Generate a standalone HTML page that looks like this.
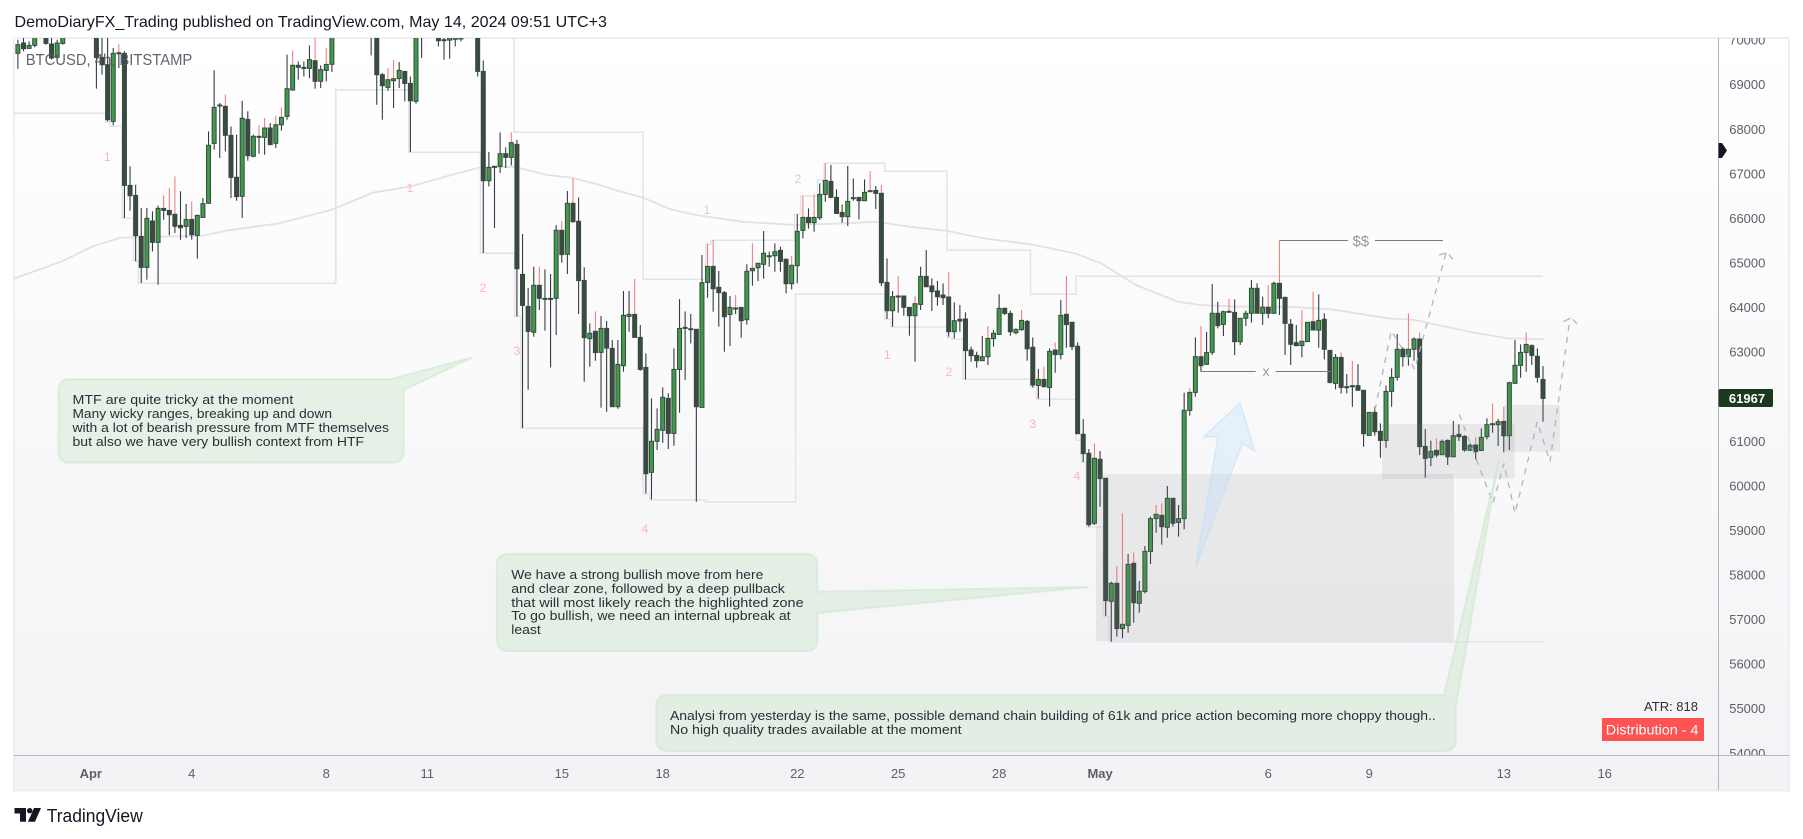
<!DOCTYPE html>
<html lang="en">
<head>
<meta charset="utf-8">
<title>BTCUSD 4h chart</title>
<style>
html,body{margin:0;padding:0;background:#fff;width:1803px;height:839px;overflow:hidden}
svg{display:block;font-family:"Liberation Sans",sans-serif}
</style>
</head>
<body>
<svg id="chart" xmlns="http://www.w3.org/2000/svg" width="1803" height="839" viewBox="0 0 1803 839">
  <defs>
    <linearGradient id="panelGrad" x1="0" y1="0" x2="0" y2="1">
      <stop offset="0" stop-color="#ffffff"/>
      <stop offset="1" stop-color="#f3f3f5"/>
    </linearGradient>
    <clipPath id="plotClip"><rect x="14" y="38" width="1704.5" height="717"/></clipPath>
    <clipPath id="priceClip"><rect x="1719" y="38" width="70" height="717"/></clipPath>
  </defs>
  <text x="14.5" y="27" font-size="16" fill="#131722" textLength="592.4" lengthAdjust="spacingAndGlyphs">DemoDiaryFX_Trading published on TradingView.com, May 14, 2024 09:51 UTC+3</text>
  <rect x="14" y="38" width="1775" height="752.5" fill="url(#panelGrad)" stroke="#eeeff4" stroke-width="2"/>
  <g id="plotUnder" clip-path="url(#plotClip)"></g>
  <g clip-path="url(#plotClip)">
    <rect x="1096" y="474" width="357.8" height="167" fill="#787b86" fill-opacity="0.12"/>
    <rect x="1382" y="424" width="132.7" height="54.7" fill="#787b86" fill-opacity="0.12"/>
    <rect x="1504" y="405" width="56" height="46.7" fill="#787b86" fill-opacity="0.12"/>
    <polygon points="1240,402.7 1254.7,451 1242.3,443.3 1195.7,566.7 1218,436.7 1204,436.7" fill="#bbdefb" fill-opacity="0.32" stroke="#bbdefb" stroke-opacity="0.55" stroke-width="1.5"/>
    <path d="M1375,410 L1391.3,330.7 L1414.7,369.3 L1446,253" fill="none" stroke="#b2b5be" stroke-width="1.3" stroke-dasharray="6 6"/>
    <path d="M1439,255 L1446,253 M1449,254.5 L1452.7,259.3" fill="none" stroke="#b2b5be" stroke-width="1.3"/>
    <path d="M1459.3,414.3 L1493,503.3 L1504,463.3 L1515,513.3 L1537.3,421.7 L1550,461.7 L1570,318.3" fill="none" stroke="#b2b5be" stroke-width="1.3" stroke-dasharray="6 6"/>
    <path d="M1563.5,321.7 L1570,318.3 M1573,319.5 L1577,324" fill="none" stroke="#b2b5be" stroke-width="1.3"/>
    <path d="M1279.6,240.5 H1348 M1375,240.5 H1443" fill="none" stroke="#787b86" stroke-width="1"/>
    <text x="1360.8" y="246" text-anchor="middle" font-size="15" fill="#9598a1">$$</text>
    <path d="M1200.7,371.5 H1255.7 M1275.7,371.5 H1330.7" fill="none" stroke="#787b86" stroke-width="1"/>
    <text x="1266" y="376" text-anchor="middle" font-size="14" fill="#9598a1">x</text>
    <g font-size="12" text-anchor="middle" fill="#ffb3b3">
      <text x="107.3" y="161">1</text>
      <text x="410" y="192">1</text>
      <text x="483" y="292">2</text>
      <text x="517" y="355">3</text>
      <text x="645" y="533">4</text>
      <text x="707" y="214" fill="#b5dfb7">1</text>
      <text x="798" y="183" fill="#b5dfb7">2</text>
      <text x="887.3" y="359">1</text>
      <text x="949" y="376">2</text>
      <text x="1032.8" y="428">3</text>
      <text x="1077" y="480">4</text>
    </g>
    <text x="25.7" y="65" font-size="16" fill="#50535e" fill-opacity="0.9" textLength="166.6" lengthAdjust="spacingAndGlyphs">BTCUSD, 4h, BITSTAMP</text>
  </g>
  <g>
    <path d="M68.5,379.3 H390 L472.6,357.3 L403.7,390 V452.7 a10,10 0 0 1 -10,10 H68.5 a10,10 0 0 1 -10,-10 V389.3 a10,10 0 0 1 10,-10 Z" fill="#c8e6c9" fill-opacity="0.4" stroke="#c8e6c9" stroke-opacity="0.5" stroke-width="2"/>
    <g font-size="13" fill="#2a2e39">
      <text x="72.5" y="404" textLength="220.8" lengthAdjust="spacingAndGlyphs">MTF are quite tricky at the moment</text>
      <text x="72.5" y="418" textLength="259.5" lengthAdjust="spacingAndGlyphs">Many wicky ranges, breaking up and down</text>
      <text x="72.5" y="432" textLength="316.5" lengthAdjust="spacingAndGlyphs">with a lot of bearish pressure from MTF themselves</text>
      <text x="72.5" y="446" textLength="291.6" lengthAdjust="spacingAndGlyphs">but also we have very bullish context from HTF</text>
    </g>
  </g>
  <g>
    <path d="M506.8,554 H807.4 a10,10 0 0 1 10,10 V591.7 L1089,587 L817.4,613 V641 a10,10 0 0 1 -10,10 H506.8 a10,10 0 0 1 -10,-10 V564 a10,10 0 0 1 10,-10 Z" fill="#c8e6c9" fill-opacity="0.4" stroke="#c8e6c9" stroke-opacity="0.5" stroke-width="2"/>
    <g font-size="13" fill="#2a2e39">
      <text x="511.3" y="579" textLength="252" lengthAdjust="spacingAndGlyphs">We have a strong bullish move from here</text>
      <text x="511.3" y="593" textLength="273.5" lengthAdjust="spacingAndGlyphs">and clear zone, followed by a deep pullback</text>
      <text x="511.3" y="607" textLength="292.3" lengthAdjust="spacingAndGlyphs">that will most likely reach the highlighted zone</text>
      <text x="511.3" y="620" textLength="279.3" lengthAdjust="spacingAndGlyphs">To go bullish, we need an internal upbreak at</text>
      <text x="511.3" y="634" textLength="29.5" lengthAdjust="spacingAndGlyphs">least</text>
    </g>
  </g>
  <g>
    <path d="M666.3,695 H1444.2 L1498.8,460 L1455.8,706.7 V741 a10,10 0 0 1 -10,10 H666.3 a10,10 0 0 1 -10,-10 V705 a10,10 0 0 1 10,-10 Z" fill="#c8e6c9" fill-opacity="0.4" stroke="#c8e6c9" stroke-opacity="0.5" stroke-width="2"/>
    <g font-size="13" fill="#2a2e39">
      <text x="670" y="720" textLength="765.8" lengthAdjust="spacingAndGlyphs">Analysi from yesterday is the same, possible demand chain building of 61k and price action becoming more choppy though..</text>
      <text x="670" y="734" textLength="291.6" lengthAdjust="spacingAndGlyphs">No high quality trades available at the moment</text>
    </g>
  </g>
  <text x="1698" y="711" text-anchor="end" font-size="13" fill="#2a2e39">ATR: 818</text>
  <rect x="1602" y="718" width="102" height="23" fill="#ff5252"/>
  <text x="1605.8" y="734.5" font-size="14" fill="#ffffff" textLength="92.7" lengthAdjust="spacingAndGlyphs">Distribution - 4</text>
  <line x1="1718.5" y1="38" x2="1718.5" y2="790" stroke="#b2b5be" stroke-width="1"/>
  <line x1="14" y1="755.5" x2="1789" y2="755.5" stroke="#b2b5be" stroke-width="1"/>
  <g id="priceAxis" clip-path="url(#priceClip)"></g>
  <g id="timeAxis"></g>
  <polygon points="1718.5,143 1722,143 1727,150.5 1722,158 1718.5,158" fill="#131722"/>
  <rect x="1718.5" y="389" width="54.5" height="18" rx="1.5" fill="#1b3a1f"/>
  <text x="1747" y="403" text-anchor="middle" font-size="13" font-weight="bold" fill="#ffffff">61967</text>
  <g>
    <path d="M14.5,808 H26 V821.7 H20 V813.5 H14.5 Z" fill="#131722"/>
    <circle cx="29.7" cy="810.7" r="2.7" fill="#131722"/>
    <polygon points="34,808 41,808 35,821.7 28,821.7" fill="#131722"/>
    <text x="46.7" y="822" font-size="18" fill="#131722" textLength="96" lengthAdjust="spacingAndGlyphs">TradingView</text>
  </g>
</svg>
<script>
const opens = [69710,69942,69822,69889,70400,70091,69919,69620,69934,70130,
70600,70400,70800,70700,70353,69620,69456,68184,69725,69710,
66748,66524,65604,64908,65948,65469,66232,66187,66098,65851,
65828,65985,65626,66030,66344,67691,68551,68521,67870,66928,
66502,68229,67399,67848,67825,68035,67691,68109,68296,68887,
69441,69396,69373,69545,69082,69329,69463,70400,70250,70600,
70350,70900,70500,70700,70278,69231,68947,69097,69142,69306,
69037,68633,70500,70300,70400,70054,70017,70009,70024,70032,
70500,70150,70503,69306,66853,67167,67175,67459,67377,67668,
64751,64033,63450,64505,64213,64213,64213,65739,65200,66345,
65941,64617,63308,63473,63002,63540,63091,61782,62702,63809,
63854,63338,62665,60309,61005,61251,61969,61184,62620,63562,
63533,63518,61767,64572,64931,64460,64340,63854,63996,64011,
63734,64834,64901,64976,65170,65170,65290,65088,64542,64946,
65739,66030,65911,66023,66546,66838,66479,66142,66045,66472,
66479,66404,66629,66636,66569,64572,63936,64265,64265,64011,
63824,64078,64706,64490,64377,64288,64243,63465,63742,63749,
63054,62934,62814,62904,63308,63405,63988,63876,63442,63510,
63697,63114,62261,62395,62216,63054,62950,63855,63675,63137,
61162,60736,59165,60601,60175,57415,57819,56802,56877,58268,
57370,57632,58537,59270,59345,59075,59726,59188,59270,61701,
62104,62905,62733,63002,63877,63630,63922,63899,63241,63765,
63877,64438,63877,64012,63877,64550,64236,63630,63219,63152,
63241,63689,63502,63742,63046,62306,62889,62231,62253,62253,
62149,61139,61655,61229,61027,62126,62440,63069,62904,63069,
63300,60892,60645,60802,60705,61027,60660,61161,61116,60802,
60922,60802,61109,61401,61378,61453,61131,62306,62710,63001,
63151,62912,62395];
const highs = [70017,70054,69979,70204,70500,70204,70129,70017,70204,70600,
70700,70900,70900,70800,70428,70054,70054,69830,69919,69755,
67175,66763,66240,66240,66165,66292,66524,66689,66950,66614,
66330,66389,66090,66464,67960,69329,68596,68783,68072,67885,
68648,68409,67885,68094,68259,68147,68311,68498,69680,69777,
69530,69530,69889,70054,69441,69830,70278,70500,70600,70700,
70900,71000,71000,70800,70353,69269,69381,69568,69516,69306,
69194,70353,70600,70650,70500,70300,70150,70300,70300,70300,
70600,70600,70600,69553,67496,67175,67937,67601,67937,67773,
65656,64445,64924,64924,64864,64759,65858,65948,66621,66913,
66479,64909,63652,63921,63817,63705,63278,63278,64378,64378,
64647,63615,62979,61969,61745,62216,62082,63091,64198,63921,
63862,63518,65185,65432,65522,64826,64378,64265,64288,64011,
64976,65447,65000,65724,65260,65447,65372,65111,65163,66098,
66509,66232,66546,66793,67242,67205,66658,66322,67182,66905,
66479,66883,67070,66733,66756,65110,64377,64714,64265,64011,
64265,64923,65297,64662,64602,64549,64804,64123,64063,63899,
63128,63016,63368,63592,63502,64303,64011,63936,63540,63951,
63727,63338,62627,62680,63091,63219,64176,64715,63675,63226,
61506,60833,60960,60788,60175,57856,58208,59390,58477,58507,
57871,58657,59315,59577,59614,60003,59726,59577,62097,62202,
63338,63593,63458,64535,64139,63937,64199,64191,63765,63937,
64625,64550,64251,64513,64587,65522,64236,63750,63615,63952,
63675,64362,64303,63876,63046,62964,63001,62515,62807,62739,
62149,61655,61782,61408,62253,62642,63413,63113,63876,63338,
63450,61281,61019,61072,61049,61049,61461,61386,61146,60960,
61094,61296,61520,61857,61505,61782,62343,63278,63181,63450,
63181,63091,62695];
const lows = [69366,69755,69815,69845,70050,69904,69568,69590,69904,70100,
70300,70300,70400,70300,68917,69231,68184,68095,69381,66015,
66180,65043,64557,64632,65267,64520,65978,65626,65679,65529,
65567,65529,65103,66015,66337,67549,67362,67511,66464,66404,
66015,67302,67377,67459,67436,67661,67586,67975,68222,68872,
69119,69194,69157,68917,68932,69082,69291,70100,70150,70200,
70300,70400,70350,69665,68558,68222,68872,68483,68932,68633,
67496,68581,69605,70200,70080,69867,69568,69590,69867,69979,
70080,70080,69194,65230,66726,65791,67025,67137,67197,63809,
61304,62164,63353,63951,63488,62665,63390,65013,64759,65911,
63862,62343,62680,62815,61760,61670,61782,61738,62568,63465,
63338,62590,59838,59703,60810,60975,60833,60907,61648,62381,
63203,59651,61767,64228,63914,63577,63017,63144,63862,63331,
63622,64497,64602,64654,64924,64811,64811,64325,64415,64549,
65559,65776,65709,65970,66382,66457,66105,65911,65836,66404,
65985,66404,66606,66217,64490,63749,63577,63891,63824,63375,
62792,63951,64460,63929,64048,64063,63353,63315,63465,62395,
62792,62657,62814,62717,63128,63390,63839,63375,63405,63487,
62814,62216,61962,62216,61782,62546,62845,63107,63054,61177,
60541,59090,59128,59539,57086,56510,56622,56585,56712,56936,
57161,57595,58253,58956,58687,58844,59090,58866,59031,61581,
62007,62568,62718,62942,63540,63368,63899,62942,63166,63593,
63668,63877,63615,63765,63877,63840,62942,62718,63152,62890,
63241,63502,63106,62844,62306,62171,62081,62081,61782,62141,
60885,61139,61131,60638,60862,61782,62366,62680,62702,62814,
60698,60189,60451,60645,60698,60473,60645,61012,60773,60795,
60600,60787,61049,61199,60900,60758,60810,62291,62433,62567,
62717,62321,61446];
const closes = [69904,69815,69889,70129,70130,69934,69605,69942,70129,70500,
70400,70800,70500,70400,69620,69456,68222,69710,69710,66748,
66516,65619,64908,66008,65469,66232,66187,66090,65828,65798,
65985,65641,66075,66337,67646,68498,68536,67870,66928,66494,
68252,67414,67848,67825,68035,67661,68109,68274,68917,69441,
69396,69381,69568,69082,69343,69463,70204,70200,70500,70300,
70800,70500,70900,70300,69231,68984,69119,69142,69329,69037,
68648,70278,70350,70550,70150,69994,70009,70100,70150,70150,
70150,70500,69306,66853,67152,67175,67459,67377,67706,64879,
64056,63472,64505,64213,64206,64206,65739,65193,66345,65933,
64610,63331,63428,62994,63540,63099,61782,62732,63832,63854,
63338,62620,60279,61005,61274,61992,61184,62620,63540,63547,
63518,61782,64565,64931,64430,64340,63802,64011,63981,63712,
64819,64886,65000,65223,65148,65260,65043,64542,64954,65716,
66030,65911,66030,66546,66860,66479,66120,66045,66389,66449,
66404,66591,66606,66569,64564,63936,64250,64250,64011,63824,
64093,64706,64475,64362,64250,64228,63465,63712,63704,63039,
62927,62814,62904,63315,63428,63988,63876,63465,63517,63719,
63083,62268,62395,62231,63024,62950,63832,63623,63129,61177,
60728,59135,60624,60167,57430,57819,56802,56899,58245,57385,
57640,58537,59270,59367,59090,59726,59165,59270,61701,62104,
62905,62703,62995,63877,63600,63914,63899,63241,63765,63877,
64438,63877,64012,63877,64550,64214,63653,63182,63152,63249,
63675,63502,63719,63069,62328,62889,62216,62216,62238,62149,
61176,61655,61221,61027,62126,62440,63069,62904,63069,63300,
60885,60623,60780,60698,61004,60660,61131,61109,60810,60915,
60773,61094,61378,61386,61446,61131,62320,62710,63001,63181,
62934,62440,61969];
const redWickBars = [18,26,27,28,31,37,43,44,46,47,49,53,55,66,67,88,93,97,99,103,110,123,124,128,131,138,140,142,144,152,154,157,160,166,173,179,183,185,187,192,196,197,199,203,204,209,211,216,223,225,229,231,236,238,248,250,253,260,263,265,269];
const maBars = [-0.7,7.7,13.2,18.3,33,37.1,46.6,55.8,63.3,69.8,77.3,82.5,88.6,94.4,98.8,103.8,106.9,111.3,116.4,120.9,129.1,138.6,147.5,153,159.8,165.6,172.7,180.6,188.5,193.2,199.4,206.9,210.8,217.7,226.6,234.2,244.4,249.2,258.8,265.7,272.1];
const maValues = [64658,65035,65372,65574,65619,65731,65897,66195,66583,66718,66980,67153,67167,66980,66920,66756,66628,66480,66211,66083,65933,65859,65897,65933,65807,65731,65551,65426,65224,65000,64512,64138,64064,64026,64026,63967,63765,63727,63465,63317,63294];
const lowerStepEndBars = [15.66,16.4,18.6,20.6,21.5,56.7,69.7,82.5,88.6,89.7,111.5,112.7,122.7,138.7,154.6,155.7,165.7,166.6,168.6,180.6,181.7,188.7,189.7,190.5,193.6,194.6,272];
const lowerStepPrices = [68365,68163,68073,66009,65058,64551,68894,67490,65224,63810,61297,59823,59688,59643,64304,63743,63570,63330,63294,62397,62217,61948,61028,60534,59083,57070,56509];
const lowerStepStart = -0.7;
const upperStepEndBars = [88.5,111.5,122.7,123.6,138.5,139.6,142.6,143.8,154.6,165.7,180.6,188.7,272];
const upperStepPrices = [70500,67939,64640,65426,65515,66099,66509,66868,67243,67064,65291,64304,64708];
const upperStepStart = 88.5;
const priceTicks = [70000,69000,68000,67000,66000,65000,64000,63000,62000,61000,60000,59000,58000,57000,56000,55000,54000];
const timeTickBars = [13,31,55,73,97,115,139,157,175,193,223,241,265,283];
const timeTickLabels = ["Apr","4","8","11","15","18","22","25","28","May","6","9","13","16"];
const boldTimeLabels = ["Apr","May"];

const SVG_NS = "http://www.w3.org/2000/svg";
function rawX(i){ return 17.9 + 5.607 * i; }
function priceY(p){ return 85 + (69000 - p) * 0.04457; }
function svgEl(tag){ return document.createElementNS(SVG_NS, tag); }
function stepPath(start, ends, prices){
  let d = "M" + rawX(start).toFixed(1) + "," + priceY(prices[0]).toFixed(1);
  for (let i = 0; i < ends.length; i++){
    d += " H" + rawX(ends[i]).toFixed(1);
    if (i + 1 < ends.length) d += " V" + priceY(prices[i + 1]).toFixed(1);
  }
  return d;
}

const plot = document.getElementById("plotUnder");

const lowerStep = svgEl("path");


lowerStep.setAttribute("d", stepPath(lowerStepStart, lowerStepEndBars, lowerStepPrices));
lowerStep.setAttribute("fill", "none");
lowerStep.setAttribute("stroke", "#e3e3ea");
lowerStep.setAttribute("stroke-width", "1.5");
plot.appendChild(lowerStep);

const upperStep = svgEl("path");


upperStep.setAttribute("d", stepPath(upperStepStart, upperStepEndBars, upperStepPrices));
upperStep.setAttribute("fill", "none");
upperStep.setAttribute("stroke", "#e3e3ea");
upperStep.setAttribute("stroke-width", "1.5");
plot.appendChild(upperStep);

const maLine = svgEl("polyline");


maLine.setAttribute("points", maBars.map(function(b, i){ return rawX(b).toFixed(1) + "," + priceY(maValues[i]).toFixed(1); }).join(" "));
maLine.setAttribute("fill", "none");
maLine.setAttribute("stroke", "#e2e2e6");
maLine.setAttribute("stroke-width", "1.8");
maLine.setAttribute("stroke-linejoin", "round");
plot.appendChild(maLine);

const redSet = new Set(redWickBars);
for (let i = 0; i < opens.length; i++){
  const x = rawX(i);
  const top = Math.max(opens[i], closes[i]);
  const bottom = Math.min(opens[i], closes[i]);
  const yTop = priceY(top);
  const yBottom = Math.max(priceY(bottom), yTop + 1);
  const candle = svgEl("g");
  
  

  const upperWick = svgEl("line");
  
  
  upperWick.setAttribute("x1", x.toFixed(2));
  upperWick.setAttribute("x2", x.toFixed(2));
  upperWick.setAttribute("y1", priceY(highs[i]).toFixed(1));
  upperWick.setAttribute("y2", yTop.toFixed(1));
  upperWick.setAttribute("stroke", redSet.has(i) ? "#ef8080" : "#363a45");
  upperWick.setAttribute("stroke-width", "1.1");
  candle.appendChild(upperWick);

  const lowerWick = svgEl("line");
  
  
  lowerWick.setAttribute("x1", x.toFixed(2));
  lowerWick.setAttribute("x2", x.toFixed(2));
  lowerWick.setAttribute("y1", yBottom.toFixed(1));
  lowerWick.setAttribute("y2", priceY(lows[i]).toFixed(1));
  lowerWick.setAttribute("stroke", "#363a45");
  lowerWick.setAttribute("stroke-width", "1.1");
  candle.appendChild(lowerWick);

  const body = svgEl("rect");
  
  
  body.setAttribute("x", (x - 2).toFixed(2));
  body.setAttribute("y", yTop.toFixed(1));
  body.setAttribute("width", 4);
  body.setAttribute("height", (yBottom - yTop).toFixed(1));
  body.setAttribute("fill", closes[i] >= opens[i] ? "#3f9a4b" : "#3a4b40");
  body.setAttribute("stroke", "#364a3e");
  body.setAttribute("stroke-width", "1");
  candle.appendChild(body);

  plot.appendChild(candle);
}

const priceAxis = document.getElementById("priceAxis");
priceTicks.forEach(function(p){
  if (p === 62000) return;
  const t = svgEl("text");
  
  
  t.setAttribute("x", 1747.3);
  t.setAttribute("y", (priceY(p) + 4.2).toFixed(1));
  t.setAttribute("text-anchor", "middle");
  t.setAttribute("font-size", "13");
  t.setAttribute("fill", "#5d606b");
  t.textContent = String(p);
  priceAxis.appendChild(t);
});

const timeAxis = document.getElementById("timeAxis");
timeTickBars.forEach(function(b, i){
  const t = svgEl("text");
  
  
  t.setAttribute("x", rawX(b).toFixed(1));
  t.setAttribute("y", 778);
  t.setAttribute("text-anchor", "middle");
  t.setAttribute("font-size", "13");
  t.setAttribute("fill", "#5d606b");
  if (boldTimeLabels.indexOf(timeTickLabels[i]) >= 0) t.setAttribute("font-weight", "bold");
  t.textContent = timeTickLabels[i];
  timeAxis.appendChild(t);
});
</script>
</body>
</html>
